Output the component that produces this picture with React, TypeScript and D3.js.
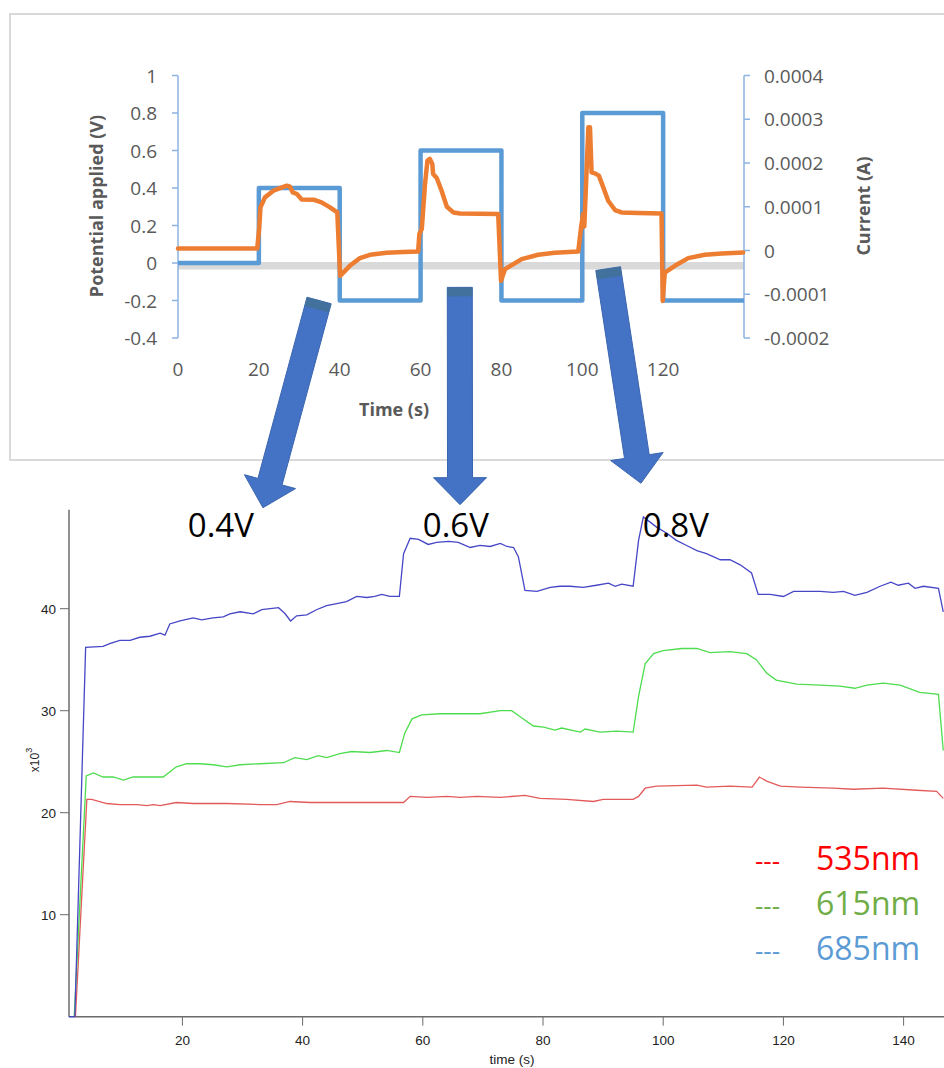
import React from 'react';
import * as d3 from 'd3';

const W = 944;
const H = 1068;

// ---------- Top chart data ----------
const topTimeTicks = [0, 20, 40, 60, 80, 100, 120];
const potentialTicks = [-0.4, -0.2, 0, 0.2, 0.4, 0.6, 0.8, 1];
const currentTicks = [-0.0002, -0.0001, 0, 0.0001, 0.0002, 0.0003, 0.0004];
const currentTickLabels = ['-0.0002', '-0.0001', '0', '0.0001', '0.0002', '0.0003', '0.0004'];
const stepTimes = [0, 20, 40, 60, 80, 100, 120, 140];
const stepPotential = [0, 0.4, -0.2, 0.6, -0.2, 0.8, -0.2, -0.2];
const zeroBandV = -0.015;

const currentTime = [
  0, 19.6, 20.1, 20.4, 21.5, 23.6, 26.9, 27.7, 28.4, 29.4, 30.6, 33.5, 35.5, 37.6, 39.4,
  40.1, 42.5, 45.0, 47.5, 51.6, 55.7, 59.4,
  59.7, 60.3, 61.1, 61.7, 62.3, 62.9, 63.1, 64.0, 65.2, 66.5, 68.1, 69.8, 79.2,
  79.9, 80.9, 85.0, 89.1, 93.2, 99.0,
  99.7, 100.2, 100.5, 101.5, 101.9, 102.3, 103.1, 104.1, 105.2, 106.4, 108.1, 109.7, 113.8, 119.6,
  119.9, 120.4, 122.9, 126.2, 130.3, 134.5, 139.8,
];
const currentA = [
  4.6e-6, 4.6e-6, 5.27e-5, 9.85e-5, 1.214e-4, 1.367e-4, 1.482e-4, 1.459e-4, 1.328e-4, 1.292e-4, 1.168e-4, 1.161e-4, 1.099e-4, 9.85e-5, 8.7e-5,
  -5.79e-5, -3.5e-5, -1.74e-5, -9.8e-6, -5.3e-6, -3.7e-6, -2.3e-6,
  3.76e-5, 4.9e-5, 1.521e-4, 2.054e-4, 2.093e-4, 1.979e-4, 1.75e-4, 1.658e-4, 1.367e-4, 1.001e-4, 8.7e-5, 8.47e-5, 8.34e-5,
  -6.94e-5, -4.26e-5, -1.97e-5, -9.8e-6, -5.3e-6, -2.3e-6,
  5.27e-5, 8.34e-5, 5.5e-5, 2.817e-4, 2.817e-4, 1.786e-4, 1.763e-4, 1.711e-4, 1.443e-4, 1.138e-4, 9.25e-5, 8.7e-5, 8.56e-5, 8.47e-5,
  -1.152e-4, -5.04e-5, -3.5e-5, -1.74e-5, -9.8e-6, -6.9e-6, -4.6e-6,
];

// ---------- Bottom chart data (x10^3) ----------
const bottomTimeTicks = [20, 40, 60, 80, 100, 120, 140];
const intensityTicks = [10, 20, 30, 40];

const series685: [number, number][] = [
  [1.1, 0], [2.1, 0], [3.9, 36.2], [6.8, 36.3], [8.0, 36.6], [9.6, 36.9], [11.3, 36.9], [12.9, 37.2], [14.6, 37.3],
  [16.3, 37.6], [17.1, 37.4], [17.9, 38.5], [19.6, 38.8], [21.8, 39.1], [23.2, 38.9], [25.1, 39.1], [26.8, 39.2],
  [27.9, 39.5], [29.6, 39.7], [31.8, 39.5], [33.2, 39.9], [34.6, 40.0], [36.0, 40.1], [37.1, 39.5], [38.0, 38.8],
  [39.0, 39.3], [40.7, 39.4], [42.3, 39.9], [44.0, 40.3], [45.7, 40.5], [47.3, 40.7], [49.0, 41.2], [50.7, 41.1],
  [52.0, 41.2], [53.2, 41.4], [54.5, 41.2], [56.1, 41.2], [56.8, 45.4], [57.9, 46.9], [59.3, 46.8], [60.9, 46.3],
  [62.3, 46.5], [64.3, 46.6], [65.9, 46.5], [67.9, 46.0], [69.5, 46.2], [71.2, 46.1], [72.9, 46.4], [74.0, 46.1],
  [75.1, 46.0], [75.9, 45.1], [77.0, 41.8], [79.0, 41.7], [81.2, 42.1], [82.8, 42.2], [84.5, 42.2], [86.7, 42.1],
  [88.9, 42.3], [90.9, 42.5], [92.0, 42.2], [93.1, 42.4], [95.0, 42.2], [95.9, 46.7], [96.7, 49.0], [98.9, 48.0],
  [100.6, 47.4], [102.2, 46.7], [103.9, 46.2], [105.6, 45.7], [107.2, 45.4], [109.5, 44.8], [111.1, 44.8],
  [112.8, 44.3], [114.7, 43.5], [115.8, 41.4], [117.8, 41.4], [120.0, 41.2], [121.7, 41.7], [123.3, 41.7],
  [126.1, 41.7], [128.3, 41.6], [130.0, 41.7], [131.9, 41.3], [133.9, 41.6], [136.1, 42.2], [137.9, 42.6],
  [139.1, 42.3], [140.8, 42.5], [141.9, 42.0], [143.3, 42.2], [145.8, 42.0], [146.6, 39.7],
];
const series615: [number, number][] = [
  [2.0, 0], [4.0, 23.6], [5.2, 23.9], [6.8, 23.5], [8.5, 23.5], [10.2, 23.2], [11.8, 23.5], [14.1, 23.5], [15.7, 23.5],
  [16.8, 23.5], [19.0, 24.5], [20.7, 24.8], [22.9, 24.8], [25.1, 24.7], [27.4, 24.5], [29.6, 24.7], [32.9, 24.8],
  [36.8, 24.9], [38.7, 25.4], [40.7, 25.2], [42.6, 25.6], [44.0, 25.4], [46.2, 25.8], [48.2, 26.0], [51.2, 25.9],
  [54.0, 26.1], [56.1, 25.9], [57.0, 27.8], [58.2, 29.2], [59.8, 29.6], [62.9, 29.7], [66.2, 29.7], [69.5, 29.7],
  [72.9, 30.0], [74.8, 30.0], [76.2, 29.4], [78.4, 28.5], [80.1, 28.4], [82.0, 28.1], [83.1, 28.3], [86.2, 27.9],
  [87.0, 28.2], [89.5, 27.9], [92.3, 28.0], [95.0, 27.9], [95.9, 31.4], [97.0, 34.6], [98.4, 35.6], [100.0, 35.9],
  [103.1, 36.1], [105.6, 36.1], [107.8, 35.7], [111.1, 35.8], [113.9, 35.6], [115.5, 35.0], [117.2, 33.7],
  [118.8, 33.0], [122.2, 32.6], [126.1, 32.5], [129.4, 32.4], [131.9, 32.2], [133.9, 32.5], [136.6, 32.7],
  [139.4, 32.5], [142.7, 31.8], [145.8, 31.6], [146.6, 26.1],
];
const series535: [number, number][] = [
  [2.2, 0], [4.1, 21.3], [4.9, 21.3], [7.4, 20.9], [9.6, 20.8], [12.4, 20.8], [14.1, 20.7], [15.2, 20.8], [16.3, 20.7],
  [19.0, 21.0], [21.8, 20.9], [27.4, 20.9], [32.9, 20.8], [35.7, 20.8], [37.9, 21.1], [41.2, 21.0], [46.8, 21.0],
  [52.3, 21.0], [56.8, 21.0], [57.9, 21.6], [60.7, 21.5], [64.0, 21.6], [66.2, 21.5], [69.0, 21.6], [72.9, 21.5],
  [77.0, 21.7], [79.5, 21.4], [83.9, 21.3], [88.4, 21.1], [90.0, 21.3], [95.0, 21.3], [95.9, 21.6], [97.0, 22.4],
  [98.9, 22.6], [105.6, 22.7], [107.2, 22.5], [111.1, 22.6], [114.8, 22.5], [116.0, 23.5], [117.2, 23.1],
  [119.5, 22.6], [122.8, 22.5], [128.3, 22.4], [131.6, 22.3], [136.6, 22.4], [142.2, 22.2], [145.5, 22.1],
  [146.6, 21.4],
];

const legendLabels = ['535nm', '615nm', '685nm'];
const legendColors = ['#ff0000', '#70ad47', '#5b9bd5'];
const stepLabels = ['0.4V', '0.6V', '0.8V'];
const stepLabelTimes = [26.4, 65.5, 102.1];
const stepLabelLevel = 47.0;

// arrows: start in top chart (time, potential), tip in bottom chart (time, intensity)
const arrowStartTime = [34.9, 69.7, 106.4];
const arrowStartV = [-0.2, -0.13, -0.03];
const arrowTipTime = [33.4, 66.2, 96.3];
const arrowTipLevel = [49.9, 50.2, 52.3];

export default function App() {
  // top scales
  const tx = d3.scaleLinear().domain([0, 140]).range([178, 744]);
  const ty = d3.scaleLinear().domain([-0.4, 1]).range([338, 75.5]);
  const tyR = d3.scaleLinear().domain([-0.0002, 0.0004]).range([338, 75.5]);

  // bottom scales
  const bx = d3.scaleLinear().domain([0, 140]).range([62.2, 903.6]);
  const by = d3.scaleLinear().domain([0, 50]).range([1016.7, 506.7]);

  const potLine = d3
    .line<number>()
    .x((_, i) => tx(stepTimes[i]))
    .y((d) => ty(d))
    .curve(d3.curveStepAfter);
  const curLine = d3
    .line<number>()
    .x((_, i) => tx(currentTime[i]))
    .y((d) => tyR(d));
  const bLine = d3
    .line<[number, number]>()
    .x((d) => bx(d[0]))
    .y((d) => by(d[1]));

  const topFont = "'Open Sans', sans-serif";
  const botFont = "'Liberation Sans', Arial, sans-serif";
  const axisBlue = '#8db3e2';

  const arrowPath = (i: number) => {
    const sx = tx(arrowStartTime[i]);
    const sy = ty(arrowStartV[i]);
    const ex = bx(arrowTipTime[i]);
    const ey = by(arrowTipLevel[i]);
    const dx = ex - sx;
    const dy = ey - sy;
    const len = Math.hypot(dx, dy);
    const ux = dx / len;
    const uy = dy / len;
    const nx = -uy;
    const ny = ux;
    const w = 12.5;
    const hw = 26.5;
    const hl = 27;
    const bxp = ex - ux * hl;
    const byp = ey - uy * hl;
    const pts: [number, number][] = [
      [sx + nx * w, sy + ny * w],
      [bxp + nx * w, byp + ny * w],
      [bxp + nx * hw, byp + ny * hw],
      [ex, ey],
      [bxp - nx * hw, byp - ny * hw],
      [bxp - nx * w, byp - ny * w],
      [sx - nx * w, sy - ny * w],
    ];
    const cap: [number, number][] = [
      [sx + nx * w, sy + ny * w],
      [sx + nx * w + ux * 9, sy + ny * w + uy * 9],
      [sx - nx * w + ux * 9, sy - ny * w + uy * 9],
      [sx - nx * w, sy - ny * w],
    ];
    return { body: 'M' + pts.map((p) => p.join(',')).join('L') + 'Z', cap: 'M' + cap.map((p) => p.join(',')).join('L') + 'Z' };
  };

  return (
    <svg
      width={W}
      height={H}
      viewBox={`0 0 ${W} ${H}`}
      style={{ position: 'absolute', left: 0, top: 0, background: '#fff' }}
    >
      <rect x={0} y={0} width={W} height={H} fill="#fff" />

      {/* ===== Bottom chart ===== */}
      <g>
        <line x1={69} x2={W} y1={by(0)} y2={by(0)} stroke="#6b6b6b" strokeWidth={1.5} />
        <line x1={69} x2={69} y1={by(0)} y2={by(49.7)} stroke="#6b6b6b" strokeWidth={1.5} />
        {intensityTicks.map((t) => (
          <g key={'yt' + t}>
            <line x1={60} x2={69} y1={by(t)} y2={by(t)} stroke="#6b6b6b" strokeWidth={1} />
            <text x={56} y={by(t) + 5} textAnchor="end" fontFamily={botFont} fontSize={13.5} fill="#222">
              {t}
            </text>
          </g>
        ))}
        {bottomTimeTicks.map((t) => (
          <g key={'xt' + t}>
            <line x1={bx(t)} x2={bx(t)} y1={by(0)} y2={by(0) + 9} stroke="#6b6b6b" strokeWidth={1} />
            <text x={bx(t)} y={1045} textAnchor="middle" fontFamily={botFont} fontSize={13.5} fill="#222">
              {t}
            </text>
          </g>
        ))}
        <text x={512} y={1064} textAnchor="middle" fontFamily={botFont} fontSize={13.5} fill="#222">
          time (s)
        </text>
        <text transform="translate(39,760) rotate(-90)" textAnchor="middle" fontFamily={botFont} fontSize={12} fill="#222">
          x10<tspan dy={-7} fontSize={9}>3</tspan>
        </text>

        <path d={bLine(series535) || ''} fill="none" stroke="#e35a5a" strokeWidth={1.3} />
        <path d={bLine(series615) || ''} fill="none" stroke="#4fdc4f" strokeWidth={1.3} />
        <path d={bLine(series685) || ''} fill="none" stroke="#4646c6" strokeWidth={1.3} />

        {legendLabels.map((lab, i) => (
          <g key={lab}>
            <text x={755} y={870 + i * 45} fontFamily={topFont} fontSize={26} fill={legendColors[i]}>
              ---
            </text>
            <text x={816} y={870 + i * 45} fontFamily={topFont} fontSize={32} fill={legendColors[i]}>
              {lab}
            </text>
          </g>
        ))}
      </g>

      {/* ===== Top chart ===== */}
      <g>
        <rect x={10} y={14} width={W + 20} height={446} fill="none" stroke="#d9d9d9" strokeWidth={2} />
        <line x1={tx(0)} x2={tx(140)} y1={ty(zeroBandV)} y2={ty(zeroBandV)} stroke="#d9d9d9" strokeWidth={7.5} />

        {/* left axis */}
        <line x1={178} x2={178} y1={ty(1)} y2={ty(-0.4)} stroke={axisBlue} strokeWidth={1.5} />
        {potentialTicks.map((t) => (
          <g key={'pt' + t}>
            <line x1={172} x2={178} y1={ty(t)} y2={ty(t)} stroke={axisBlue} strokeWidth={1.5} />
            <text x={157} y={ty(t) + 7} textAnchor="end" fontFamily={topFont} fontSize={19} fill="#595959">
              {t}
            </text>
          </g>
        ))}
        {/* right axis */}
        <line x1={744} x2={744} y1={tyR(0.0004)} y2={tyR(-0.0002)} stroke={axisBlue} strokeWidth={1.5} />
        {currentTicks.map((t, i) => (
          <g key={'ct' + i}>
            <line x1={744} x2={750} y1={tyR(t)} y2={tyR(t)} stroke={axisBlue} strokeWidth={1.5} />
            <text x={764} y={tyR(t) + 7} textAnchor="start" fontFamily={topFont} fontSize={19} fill="#595959">
              {currentTickLabels[i]}
            </text>
          </g>
        ))}
        {topTimeTicks.map((t) => (
          <text key={'tt' + t} x={tx(t)} y={376} textAnchor="middle" fontFamily={topFont} fontSize={19} fill="#595959">
            {t}
          </text>
        ))}
        <text x={394} y={416} textAnchor="middle" fontFamily={topFont} fontWeight={700} fontSize={18} fill="#595959">
          Time (s)
        </text>
        <text transform="translate(103,206) rotate(-90)" textAnchor="middle" fontFamily={topFont} fontWeight={700} fontSize={18} fill="#595959">
          Potential applied (V)
        </text>
        <text transform="translate(870,206) rotate(-90)" textAnchor="middle" fontFamily={topFont} fontWeight={700} fontSize={18} fill="#595959">
          Current (A)
        </text>

        <path
          d={potLine(stepPotential) || ''}
          fill="none"
          stroke="#5b9bd5"
          strokeWidth={4.5}
          strokeLinejoin="round"
        />
        <path
          d={curLine(currentA) || ''}
          fill="none"
          stroke="#ed7d31"
          strokeWidth={4.5}
          strokeLinejoin="round"
          strokeLinecap="round"
        />
      </g>

      {/* ===== Arrows ===== */}
      {arrowStartTime.map((_, i) => {
        const a = arrowPath(i);
        return (
          <g key={'arr' + i}>
            <path d={a.body} fill="#4472c4" stroke="#3a65b0" strokeWidth={1} />
            <path d={a.cap} fill="#41719c" />
          </g>
        );
      })}

      {stepLabels.map((lab, i) => (
        <text
          key={lab}
          x={bx(stepLabelTimes[i])}
          y={by(stepLabelLevel)}
          textAnchor="middle"
          fontFamily={topFont}
          fontSize={33}
          fill="#000"
        >
          {lab}
        </text>
      ))}
    </svg>
  );
}
